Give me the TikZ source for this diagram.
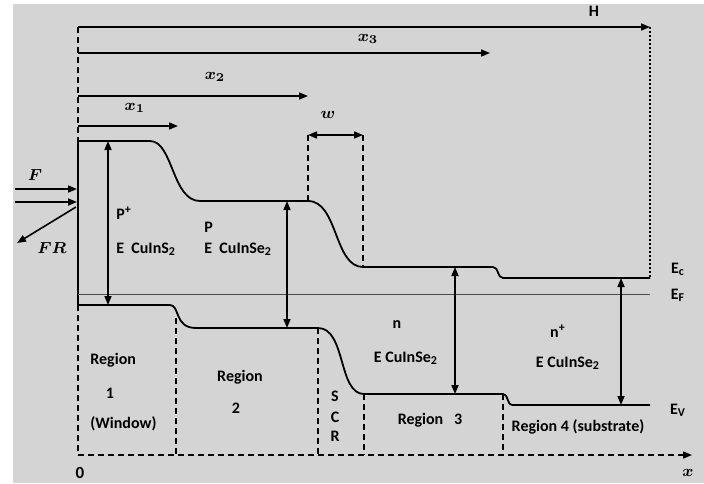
\documentclass[tikz,border=0pt]{standalone}
\usepackage{amsmath, amsfonts}
\usepackage{fontspec}
\setmainfont{Carlito}
\usetikzlibrary{arrows.meta}
\definecolor{bggray}{RGB}{212,212,212}

\begin{document}
\begin{tikzpicture}[x=0.5pt, y=-0.5pt,
  every node/.style={inner sep=0pt, font=\fontsize{8}{10}\selectfont\bfseries},
  mlbl/.style={font=\fontsize{8.5}{10}\selectfont},
  band/.style={line width=0.9pt},
  arr/.style={line width=0.8pt, -{Triangle[length=4.5pt,width=3.5pt]}},
  darr/.style={line width=0.8pt, {Triangle[length=4.5pt,width=3.5pt]}-{Triangle[length=4.5pt,width=3.5pt]}},
  bound/.style={line width=0.7pt, dash pattern=on 3pt off 2pt},
  fermi/.style={line width=0.4pt, black!70}]

  \useasboundingbox (0,0) rectangle (704,483);
  \fill[white] (0,0) rectangle (704,483);
  \fill[bggray] (13,4) rectangle (704,483);

  % Coordinates
  \coordinate (o) at (78,27);
  \coordinate (hEnd) at (650,27);
  \coordinate (x3Start) at (78,53);
  \coordinate (x3End) at (490,53);
  \coordinate (x2Start) at (78,96);
  \coordinate (x2End) at (308,96);
  \coordinate (x1Start) at (78,126);
  \coordinate (x1End) at (178,126);
  \coordinate (wLeft) at (308,135);
  \coordinate (wRight) at (363,135);
  \coordinate (ecA) at (78,141);
  \coordinate (ecB) at (150,141);
  \coordinate (ecC) at (200,201);
  \coordinate (ecD) at (308,201);
  \coordinate (ecE) at (363,267);
  \coordinate (ecF) at (493,267);
  \coordinate (ecG) at (503,278);
  \coordinate (ecH) at (650,278);
  \coordinate (evA) at (78,305);
  \coordinate (evB) at (170,305);
  \coordinate (evC) at (196,328);
  \coordinate (evD) at (318,328);
  \coordinate (evE) at (364,394);
  \coordinate (evF) at (503,394);
  \coordinate (evG) at (513,405);
  \coordinate (evH) at (650,405);
  \coordinate (efA) at (78,294);
  \coordinate (efB) at (650,294);
  \coordinate (axA) at (78,455);
  \coordinate (axB) at (692,455);
  \coordinate (fA) at (15,189);
  \coordinate (fB) at (77,189);
  \coordinate (fC) at (15,202);
  \coordinate (fD) at (77,202);
  \coordinate (frA) at (76,207);
  \coordinate (frB) at (17,243);

  % Nodes
  \node (hLbl) at (594,11) {H};
  \node[mlbl] (x3Lbl) at (368,39) {$\boldsymbol{x_3}$};
  \node[mlbl] (x2Lbl) at (215,77) {$\boldsymbol{x_2}$};
  \node[mlbl] (x1Lbl) at (135,108) {$\boldsymbol{x_1}$};
  \node[mlbl] (wLbl) at (328,115) {$\boldsymbol{w}$};
  \node[mlbl] (fLbl) at (35,175) {$\boldsymbol{F}$};
  \node[mlbl] (frLbl) at (52,248) {$\boldsymbol{FR}$};
  \node[mlbl] (zeroLbl) at (80,473) {$\mathbf{0}$};
  \node[mlbl] (xLbl) at (688,473) {$\boldsymbol{x}$};

  \node[anchor=west] (pp) at (116,213) {P\textsuperscript{+}};
  \node[anchor=west] (cis) at (116,249) {E\ \ CuInS\textsubscript{2}};
  \node[anchor=west] (p) at (204,227) {P};
  \node[anchor=west] (cise) at (204,249) {E\ \ CuInSe\textsubscript{2}};
  \node (n) at (397,325) {n};
  \node (cisen) at (406,358) {E CuInSe\textsubscript{2}};
  \node (np) at (558,331) {n\textsuperscript{+}};
  \node (cisenp) at (568,363) {E CuInSe\textsubscript{2}};

  \node (ecLbl) at (678,269) {E\textsubscript{c}};
  \node (efLbl) at (678,295) {E\textsubscript{F}};
  \node (evLbl) at (678,410) {E\textsubscript{V}};

  \node[anchor=west] (reg1) at (90,360) {Region};
  \node (reg1n) at (110,393) {1};
  \node[anchor=west] (reg1w) at (90,424) {(Window)};
  \node (reg2) at (240,377) {Region};
  \node (reg2n) at (236,408) {2};
  \node (scrS) at (335,396) {S};
  \node (scrC) at (335,417) {C};
  \node (scrR) at (335,436) {R};
  \node (reg3) at (430,420) {Region\ \ \ 3};
  \node (reg4) at (578,427) {Region 4 (substrate)};

  % Lengths
  \draw[arr] (o) -- (hEnd);
  \draw[arr] (x3Start) -- (x3End);
  \draw[arr] (x2Start) -- (x2End);
  \draw[arr] (x1Start) -- (x1End);
  \draw[darr] (wLeft) -- (wRight);
  \draw[bound] (o) -- (ecA);
  \draw[bound] (wLeft) -- (ecD);
  \draw[bound] (wRight) -- (ecE);
  \draw[line width=0.6pt, dash pattern=on 1pt off 1pt] (hEnd) -- (ecH);

  % Bands
  \draw[band] (ecA) -- (evA);
  \draw[band] (ecA) -- (ecB) .. controls (173,141) and (172,201) .. (ecC) -- (ecD)
    .. controls (338,201) and (334,267) .. (ecE) -- (ecF)
    .. controls (499,267) and (497,278) .. (ecG) -- (ecH);
  \draw[band] (evA) -- (evB) .. controls (180,305) and (174,328) .. (evC) -- (evD)
    .. controls (346,328) and (338,394) .. (evE) -- (evF)
    .. controls (509,394) and (506,405) .. (evG) -- (evH);
  \draw[fermi] (efA) -- (efB);

  % Gaps
  \draw[darr] (108,141) -- (108,305);
  \draw[darr] (287,201) -- (287,328);
  \draw[darr] (455,267) -- (455,394);
  \draw[darr] (621,278) -- (621,405);

  % Regions
  \draw[bound] (evA) -- (axA);
  \draw[bound] (176,318) -- (176,455);
  \draw[bound] (evD) -- (318,455);
  \draw[bound] (evE) -- (364,455);
  \draw[bound] (evF) -- (503,455);
  \draw[bound, -{Triangle[length=4.5pt,width=3.5pt]}] (axA) -- (axB);

  % Light
  \draw[arr] (fA) -- (fB);
  \draw[arr] (fC) -- (fD);
  \draw[arr] (frA) -- (frB);

\end{tikzpicture}
\end{document}
